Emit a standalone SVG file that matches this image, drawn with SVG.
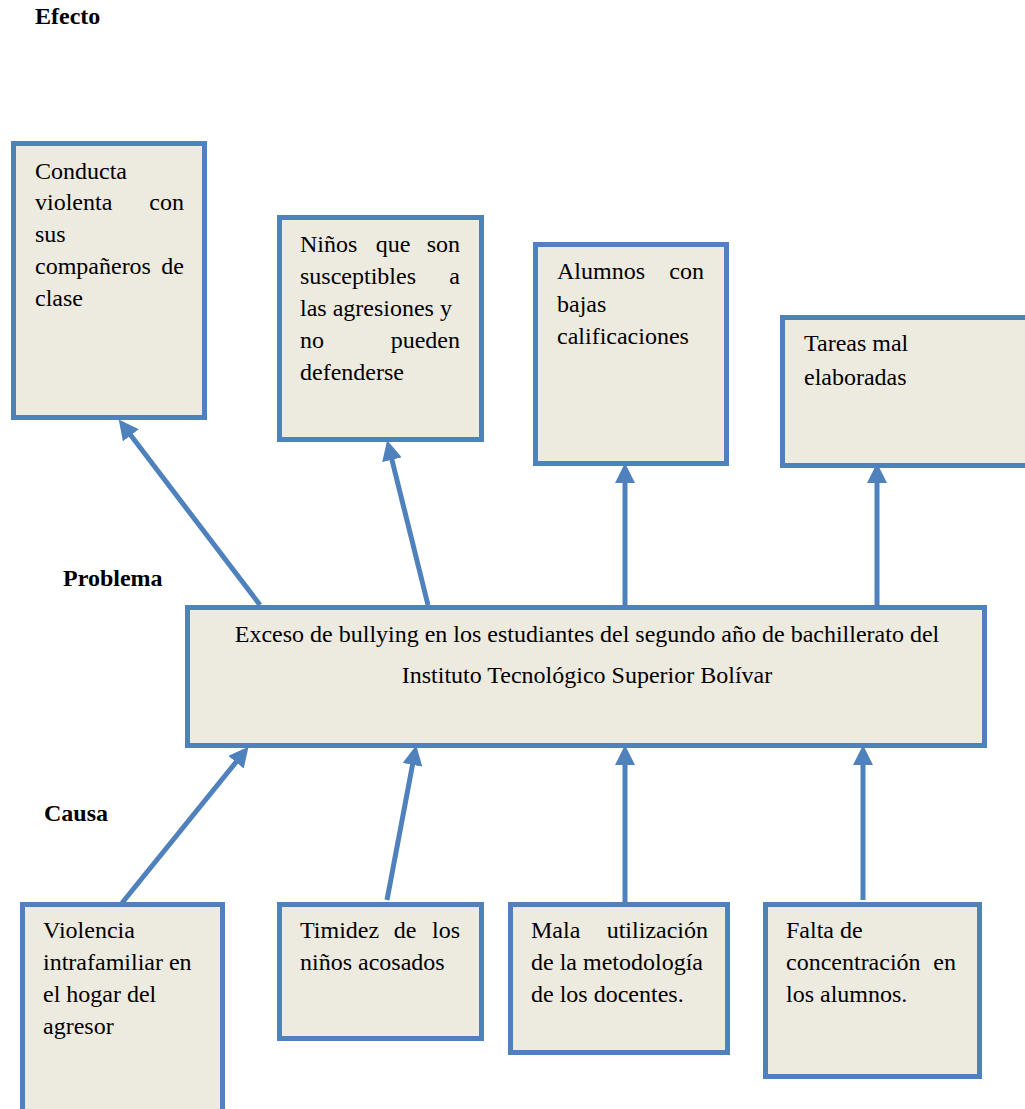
<svg xmlns="http://www.w3.org/2000/svg" width="1025" height="1109" viewBox="0 0 1025 1109">
<style>
.box{fill:#EDEAE0;stroke:#4F81BD;stroke-width:5}
.t{font-family:"Liberation Serif","Times New Roman",serif;font-size:24px;fill:#000}
.h{font-family:"Liberation Serif","Times New Roman",serif;font-size:24px;font-weight:bold;fill:#000}
.c{stroke:#4F81BD;stroke-width:5;fill:none;marker-end:url(#ah)}
</style>
<defs>
<marker id="ah" markerWidth="4" markerHeight="4" refX="1.6" refY="2" orient="auto" markerUnits="strokeWidth" viewBox="0 0 4 4">
<path d="M0,0 L4,2 L0,4 z" fill="#4F81BD"/>
</marker>
</defs>
<rect width="1025" height="1109" fill="#fff"/>
<text class="h" x="35" y="24">Efecto</text>
<text class="h" x="63" y="586">Problema</text>
<text class="h" x="44" y="821">Causa</text>
<g id="connectors">
<line class="c" x1="260" y1="605" x2="126" y2="429"/>
<line class="c" x1="428" y1="605" x2="390" y2="452"/>
<line class="c" x1="625" y1="605" x2="625" y2="475"/>
<line class="c" x1="877" y1="605" x2="877" y2="475"/>
<line class="c" x1="122" y1="903" x2="241" y2="756"/>
<line class="c" x1="387" y1="900" x2="414" y2="757"/>
<line class="c" x1="625" y1="903" x2="625" y2="757"/>
<line class="c" x1="863" y1="900" x2="863" y2="757"/>
</g>
<g id="e1">
<rect class="box" x="13.5" y="143.5" width="191" height="274"/>
<text class="t" x="35" y="179">Conducta</text>
<text class="t" x="35" y="210">violenta</text><text class="t" x="184" y="210" text-anchor="end">con</text>
<text class="t" x="35" y="242">sus</text>
<text class="t" x="35" y="274">compañeros</text><text class="t" x="184" y="274" text-anchor="end">de</text>
<text class="t" x="35" y="306">clase</text>
</g>
<g id="e2">
<rect class="box" x="279.5" y="217.5" width="202" height="222"/>
<text class="t" x="300" y="252">Niños</text><text class="t" x="393" y="252" text-anchor="middle">que</text><text class="t" x="460" y="252" text-anchor="end">son</text>
<text class="t" x="300" y="284">susceptibles</text><text class="t" x="460" y="284" text-anchor="end">a</text>
<text class="t" x="300" y="316">las agresiones y</text>
<text class="t" x="300" y="348">no</text><text class="t" x="460" y="348" text-anchor="end">pueden</text>
<text class="t" x="300" y="380">defenderse</text>
</g>
<g id="e3">
<rect class="box" x="535.5" y="244.5" width="191" height="219"/>
<text class="t" x="557" y="279">Alumnos</text><text class="t" x="704" y="279" text-anchor="end">con</text>
<text class="t" x="557" y="312">bajas</text>
<text class="t" x="557" y="344">calificaciones</text>
</g>
<g id="e4">
<rect class="box" x="782.5" y="317.5" width="250" height="148"/>
<text class="t" x="804" y="351">Tareas mal</text>
<text class="t" x="804" y="385">elaboradas</text>
</g>
<g id="problema">
<rect class="box" x="187.5" y="607.5" width="797" height="138"/>
<text class="t" x="587" y="642" text-anchor="middle">Exceso de bullying en los estudiantes del segundo año de bachillerato del</text>
<text class="t" x="587" y="683" text-anchor="middle">Instituto Tecnológico Superior Bolívar</text>
</g>
<g id="c1">
<rect class="box" x="22.5" y="904.5" width="200" height="220"/>
<text class="t" x="43" y="938">Violencia</text>
<text class="t" x="43" y="970">intrafamiliar en</text>
<text class="t" x="43" y="1002">el hogar del</text>
<text class="t" x="43" y="1034">agresor</text>
</g>
<g id="c2">
<rect class="box" x="279.5" y="904.5" width="202" height="134"/>
<text class="t" x="300" y="938">Timidez</text><text class="t" x="405" y="938" text-anchor="middle">de</text><text class="t" x="460" y="938" text-anchor="end">los</text>
<text class="t" x="300" y="970">niños acosados</text>
</g>
<g id="c3">
<rect class="box" x="510.5" y="904.5" width="217" height="148"/>
<text class="t" x="531" y="938">Mala</text><text class="t" x="708" y="938" text-anchor="end">utilización</text>
<text class="t" x="531" y="970">de la metodología</text>
<text class="t" x="531" y="1002">de los docentes.</text>
</g>
<g id="c4">
<rect class="box" x="765.5" y="904.5" width="214" height="172"/>
<text class="t" x="786" y="938">Falta de</text>
<text class="t" x="786" y="970">concentración</text><text class="t" x="956" y="970" text-anchor="end">en</text>
<text class="t" x="786" y="1002">los alumnos.</text>
</g>
</svg>
